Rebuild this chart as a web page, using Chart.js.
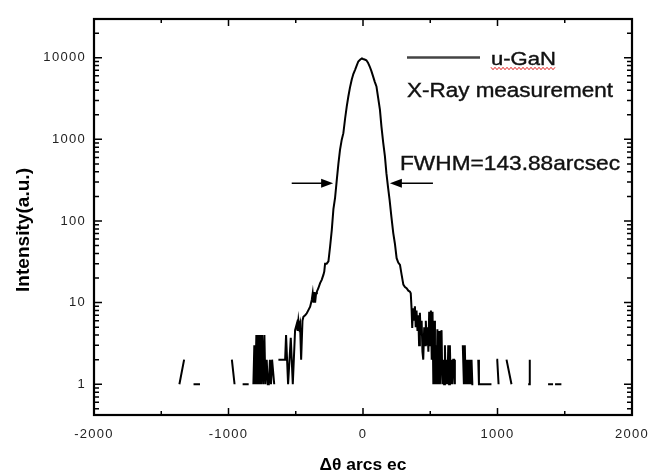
<!DOCTYPE html>
<html lang="en">
<head>
  <meta charset="UTF-8">
  <title>u-GaN X-Ray rocking curve</title>
  <script src="https://cdn.jsdelivr.net/npm/chart.js"></script>
  <style>
    body { margin: 0; background: white; }
    #wrap { position: relative; width: 649px; height: 472px; }
  </style>
</head>
<body>
<div id="wrap"><canvas id="xrd"></canvas></div>
<script>
// null = zero counts (gap on the log axis)
const angle = [
  -1365, -1330, -1320,
  -1260, -1212, -1200,
  -975, -955, -940,
  -895, -850, -835,
  -815, -808, -800, -793, -786, -779, -772, -765, -758, -750, -742, -733, -726, -716, -708, -700, -692, -684, -676, -660, -645,
  -629, -600, -579, -572, -557, -537, -522, -505, -492, -486, -480, -474, -468, -460, -450, -443, -430, -418, -406, -393,
  -381, -374, -368, -362, -356, -349, -343, -332, -319, -307, -294, -288, -282, -270, -257, -245, -232, -220, -208, -195,
  -183, -171, -158, -146, -133, -121, -109, -97, -84, -72, -59, -47, -35, -20, -8, 0, 12, 25, 37, 50, 62, 75, 87, 100,
  113, 126, 137, 150, 163, 174, 186, 198, 211, 225, 237, 250, 262, 275, 287, 300, 312, 324, 337, 349, 355, 361, 366,
  372, 378, 386, 392, 398, 405, 411, 417, 423, 429, 436, 442, 448, 455, 461, 467, 474, 480, 486, 492, 499, 505, 511,
  517, 523, 529, 535, 541, 547, 553, 560, 566, 572, 584, 590, 597, 603, 609, 615, 621, 628, 634, 640, 646, 652, 658,
  665, 671, 677, 683, 700,
  742, 750, 757, 763, 770, 776, 782, 788, 794, 800, 807, 813, 820, 838,
  857, 862, 955, 970,
  992, 998, 1008, 1030,
  1067, 1104, 1150,
  1228, 1237, 1240, 1300,
  1376, 1413, 1420,
  1428, 1475
];
const intensity = [
  1, 2, null,
  1, 1, null,
  2, 1, null,
  1, 1, null,
  1, 3, 1, 4, 1, 4, 1, 4, 1, 4, 1, 4, 1, 2, 1, 1, 2, 1, 2, 1, null,
  2, 2, 2, 4, 1, 3.7, 1, 4.6, 5.5, 4.5, 6, 5, 5.5, 2, 6, 6.7, 7, 7.4, 8.1, 8.9,
  10.8, 13, 10, 13.5, 10, 13, 13.6, 15, 17.3, 19, 22, 24, 30, 30, 32, 48, 78, 140, 190, 317,
  500, 745, 990, 1190, 1800, 2520, 3350, 4300, 5370, 6300, 7100, 8000, 9000, 9500, 9800, 9650, 9500, 9300, 8700, 7800, 6900, 5900, 5100, 4450,
  3200, 2290, 1440, 920, 620, 385, 260, 180, 113, 71, 53, 35, 31, 29, 22, 16.6, 15.5, 15, 14, 13.6, 13, 8.5, 4.9,
  8.5, 6, 9, 5, 8, 4.5, 7, 3, 7.5, 4, 6, 2.5, 2, 5, 3, 6, 3, 5, 2.5, 7.7, 3, 8, 2,
  7.7, 1, 6, 1, 3, 1, 4.7, 1, 4.5, 1, 4.6, 1, 2, 1, 3, 1, 2, 1, 3, 1, 3, 1, 2,
  1, 2, 2, 1, null,
  3, 1, 3, 1, 2, 1, 2, 1, 2, 1, 2, 1, 1, null,
  2, 1, 1, null,
  2, 2, 1, null,
  2, 1, null,
  1, 1, 2, null,
  1, 1, null,
  1, 1
];

const xMajor = [-2000, -1000, 0, 1000, 2000];
const xMinor = [-1500, -500, 500, 1500];
const decades = [1, 10, 100, 1000, 10000];
const fwhmLevel = 290;           // intensity where the FWHM arrows sit
const leftArrow = [-530, -222];  // arcsec
const rightArrow = [520, 200];

const FONT = '"Liberation Sans", Arial, sans-serif';

function yMinorTicks(min, max) {
  let out = [];
  for (let p = 0.1; p <= max; p *= 10) {
    for (let k = 2; k <= 9; k++) {
      let v = k * p;
      if (v >= min && v <= max) out.push(v);
    }
  }
  return out;
}

function fitText(ctx, txt, x, y, size, width, bold, center) {
  ctx.save();
  ctx.font = (bold ? 'bold ' : '') + size + 'px ' + FONT;
  let w = ctx.measureText(txt).width;
  ctx.translate(x, y);
  ctx.scale(width / w, 1);
  ctx.textAlign = 'left';
  ctx.textBaseline = 'alphabetic';
  ctx.fillText(txt, center ? -w / 2 : 0, 0);
  if (!bold) {
    // the scanned labels are a little heavier than plain regular
    ctx.lineWidth = 0.4;
    ctx.strokeStyle = ctx.fillStyle;
    ctx.strokeText(txt, center ? -w / 2 : 0, 0);
  }
  ctx.restore();
}

function arrow(ctx, x0, x1, y) {
  let dir = x1 > x0 ? 1 : -1;
  ctx.beginPath();
  ctx.moveTo(x0, y);
  ctx.lineTo(x1 - dir * 10, y);
  ctx.stroke();
  ctx.beginPath();
  ctx.moveTo(x1, y);
  ctx.lineTo(x1 - dir * 12, y - 4.5);
  ctx.lineTo(x1 - dir * 12, y + 4.5);
  ctx.closePath();
  ctx.fill();
}

const decor = {
  id: 'decor',
  beforeDraw(chart) {
    chart.ctx.letterSpacing = '1.3px';
  },
  afterDraw(chart) {
    const ctx = chart.ctx;
    const ca = chart.chartArea;
    const xs = chart.scales.x, ys = chart.scales.y;
    ctx.save();
    ctx.letterSpacing = '0px';
    ctx.strokeStyle = '#000';
    ctx.fillStyle = '#000';

    // frame
    ctx.lineWidth = 2.2;
    ctx.strokeRect(ca.left, ca.top, ca.right - ca.left, ca.bottom - ca.top);

    // inward ticks on all four sides
    ctx.lineWidth = 1.5;
    ctx.beginPath();
    xMajor.concat(xMinor).forEach(v => {
      let len = xMajor.includes(v) ? 7 : 4;
      let px = xs.getPixelForValue(v);
      ctx.moveTo(px, ca.bottom); ctx.lineTo(px, ca.bottom - len);
      ctx.moveTo(px, ca.top); ctx.lineTo(px, ca.top + len);
    });
    decades.concat(yMinorTicks(ys.min, ys.max)).forEach(v => {
      let len = decades.includes(v) ? 8 : 5;
      let py = ys.getPixelForValue(v);
      ctx.moveTo(ca.left, py); ctx.lineTo(ca.left + len, py);
      ctx.moveTo(ca.right, py); ctx.lineTo(ca.right - len, py);
    });
    ctx.stroke();

    // FWHM arrows
    ctx.lineWidth = 1.3;
    let ay = ys.getPixelForValue(fwhmLevel);
    arrow(ctx, xs.getPixelForValue(leftArrow[0]), xs.getPixelForValue(leftArrow[1]), ay);
    arrow(ctx, xs.getPixelForValue(rightArrow[0]), xs.getPixelForValue(rightArrow[1]), ay);

    // legend
    ctx.strokeStyle = '#444';
    ctx.lineWidth = 2.5;
    ctx.beginPath();
    ctx.moveTo(407, 57.5); ctx.lineTo(480, 57.5);
    ctx.stroke();

    ctx.fillStyle = '#111';
    fitText(ctx, 'u-GaN', 491, 65, 18, 65, false, false);
    fitText(ctx, 'X-Ray measurement', 407, 96.5, 20, 206, false, false);
    fitText(ctx, 'FWHM=143.88arcsec', 400, 170, 21, 220, false, false);

    // spell-check squiggle under u-GaN
    ctx.strokeStyle = '#e02020';
    ctx.lineWidth = 1;
    ctx.beginPath();
    for (let x = 491, i = 0; x <= 556; x += 2, i++) {
      let y = 68.5 + (i % 2 ? 1.2 : -1.2);
      if (i === 0) ctx.moveTo(x, y); else ctx.lineTo(x, y);
    }
    ctx.stroke();

    // axis titles
    ctx.fillStyle = '#000';
    fitText(ctx, 'Δθ arcs ec', (ca.left + ca.right) / 2, 470, 17, 87, true, true);
    ctx.save();
    ctx.translate(28.5, 230);
    ctx.rotate(-Math.PI / 2);
    fitText(ctx, 'Intensity(a.u.)', 0, 0, 18, 124, true, true);
    ctx.restore();

    ctx.restore();
  }
};

const points = angle.map((a, i) => ({ x: a, y: intensity[i] }));

new Chart(document.getElementById('xrd'), {
  type: 'line',
  data: {
    datasets: [{
      label: 'u-GaN',
      data: points,
      borderColor: '#000',
      borderWidth: 2,
      pointRadius: 0,
      tension: 0,
      spanGaps: false
    }]
  },
  options: {
    responsive: true,
    maintainAspectRatio: false,
    animation: false,
    layout: { padding: { left: 0, right: 17, top: 19, bottom: 0 } },
    plugins: { legend: { display: false }, tooltip: { enabled: false } },
    scales: {
      x: {
        type: 'linear',
        min: -2000,
        max: 2000,
        grid: { display: false },
        border: { display: false },
        ticks: {
          stepSize: 1000,
          maxRotation: 0,
          padding: 4,
          color: '#222',
          font: { family: FONT, size: 13 },
          callback: v => String(v)
        },
        afterFit: s => { s.height = 57; s.paddingLeft = 0; s.paddingRight = 0; }
      },
      y: {
        type: 'logarithmic',
        min: 0.42,
        max: 29800,
        grid: { display: false },
        border: { display: false },
        afterBuildTicks: s => { s.ticks = decades.map(v => ({ value: v })); },
        ticks: {
          padding: 0,
          color: '#222',
          font: { family: FONT, size: 13 },
          callback: v => String(v)
        },
        afterFit: s => { s.width = 94; s.paddingTop = 0; s.paddingBottom = 0; }
      }
    }
  },
  plugins: [decor]
});
</script>
</body>
</html>
